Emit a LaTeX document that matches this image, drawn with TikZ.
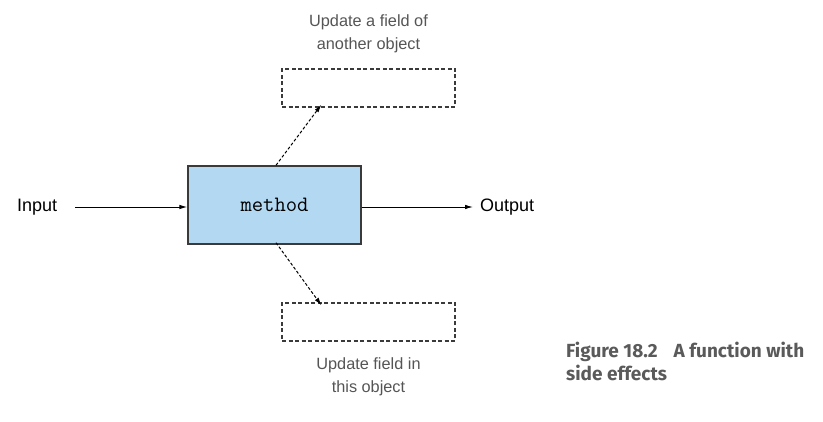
\documentclass[tikz,border=0pt]{standalone}
\usepackage{fontspec}
\setmainfont{Liberation Sans}
\newfontfamily\capfont{Fira Sans}
\usetikzlibrary{arrows.meta}
\definecolor{boxblue}{HTML}{B2D8F2}
\definecolor{edge}{HTML}{3A3A3A}
\definecolor{labelgray}{HTML}{555555}
\definecolor{capgray}{HTML}{5A5A5A}
\begin{document}
\begin{tikzpicture}[x=1pt,y=-1pt,
  mainbox/.style={draw=edge,line width=1.4pt,fill=boxblue,minimum width=173pt,minimum height=78pt,inner sep=0pt,font=\fontsize{22}{24}\selectfont\ttfamily},
  sidebox/.style={draw=edge,line width=1.1pt,dash pattern=on 4pt off 2.5pt,minimum width=173pt,minimum height=38pt,inner sep=0pt},
  grlabel/.style={text=labelgray,align=center,font=\fontsize{16.3}{23}\selectfont},
  iolabel/.style={text=black,font=\fontsize{18}{20}\selectfont,inner sep=0pt},
  flow/.style={draw=black,line width=0.9pt,-{Latex[length=8pt,width=4.5pt]}},
  sideflow/.style={flow,line width=1pt,dash pattern=on 3pt off 2pt}]
\useasboundingbox (0,0) rectangle (823,422);

\node[mainbox] (m) at (274.5,205) {method};
\node[sidebox] (top) at (368.5,88) {};
\node[sidebox] (bot) at (368.5,322) {};

\node[grlabel] (toplab) at (368.5,34) {Update a field of\\another object};
\node[grlabel] (botlab) at (368.5,377) {Update field in\\this object};

\node[iolabel,anchor=west] (in) at (17,207) {Input};
\node[iolabel,anchor=west] (out) at (480,207) {Output};

\coordinate (inS) at (75,207);
\coordinate (outS) at (361.5,207);
\draw[flow] (inS) -- (m.west |- inS);
\draw[flow] (outS) -- ([xshift=-7pt]out.west);

\draw[sideflow] ([xshift=1.5pt]m.north) -- ([xshift=-47pt,yshift=3pt]top.south);
\draw[sideflow] ([xshift=1.5pt,yshift=2pt]m.south) -- ([xshift=-47pt,yshift=-3pt]bot.north);

\node[anchor=north west,align=left,text=capgray,inner sep=0pt,
  font=\capfont\bfseries\fontsize{19}{23}\selectfont] (cap) at (566,342)
  {Figure 18.2\hspace{16pt}A function with\\side effects};
\end{tikzpicture}
\end{document}
